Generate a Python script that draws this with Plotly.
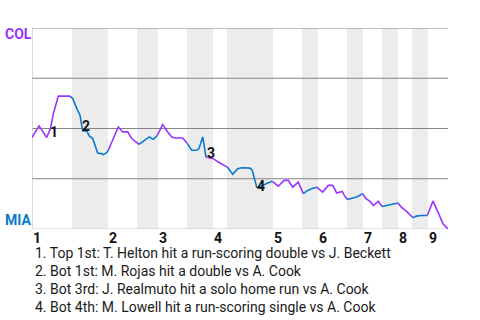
import plotly.graph_objects as go

# Game progress (event index scale) and Rockies win probability (%)
progress = [0, 1.35, 2.83, 3.56, 4.13, 5.06, 6.15, 7.31, 7.83, 8.60, 9.23, 9.56, 9.75, 10.52,
            11.02, 11.67, 12.12, 12.63, 13.27, 13.71, 14.37, 14.67, 16.60, 17.44, 18.40, 19.17,
            19.81, 20.58, 21.40, 22.56, 23.33, 24.10, 25.13, 26.10, 26.87, 27.50, 28.98, 29.87,
            30.71, 31.67, 32.12, 32.83, 33.46, 34.87, 35.83, 36.48, 37.56, 38.60, 39.56, 40.33,
            41.92, 42.37, 43.21, 43.85, 45.00, 46.21, 47.37, 48.46, 49.29, 50.13, 51.21, 52.17,
            53.02, 53.79, 54.75, 55.90, 56.98, 57.83, 58.60, 59.67, 60.06, 60.63, 61.48, 62.44,
            63.60, 64.23, 65.00, 65.63, 66.60, 67.31, 68.13, 69.10, 70.38, 71.02, 71.98, 73.27,
            73.90, 74.87, 76.02, 77.12, 78.08, 79.04, 80.0]
col_win_pct = [45.5, 51.3, 45.5, 50.1, 57.6, 66.1, 66.1, 66.1, 64.9, 60.0, 56.6, 51.6, 48.8, 48.8,
               46.3, 45.0, 41.6, 37.8, 37.5, 37.0, 38.0, 39.2, 50.8, 48.3, 48.3, 45.0,
               43.8, 42.1, 43.6, 45.8, 44.6, 46.6, 52.0, 48.3, 45.8, 45.3, 45.3, 42.5,
               39.2, 39.2, 40.0, 45.8, 35.8, 35.0, 33.3, 32.5, 30.8, 27.2, 30.0, 30.5,
               30.3, 29.2, 20.8, 20.8, 22.5, 23.7, 21.3, 24.2, 24.2, 20.8, 23.3, 17.6,
               19.2, 20.0, 20.8, 18.4, 21.7, 21.7, 17.9, 18.7, 16.7, 14.7, 15.1, 15.9,
               17.6, 15.1, 13.7, 11.7, 13.7, 11.2, 11.7, 12.2, 12.9, 10.9, 8.9, 5.6,
               6.4, 6.7, 6.7, 13.9, 8.4, 2.6, 0.0]

# Where the batting team changes (line colour switches)
color_switch = [7.31, 14.67, 20.58, 24.10, 29.87, 33.46, 37.56, 46.21, 52.17, 54.75,
                60.63, 63.60, 67.31, 70.38, 73.27, 76.02]

# Bottom-half-inning shaded bands (start, end)
bottom_bands = [(7.69, 14.62), (20.19, 24.23), (29.81, 34.81), (37.50, 46.35),
                (51.92, 55.00), (60.58, 63.65), (67.31, 70.38), (73.08, 76.15)]
innings = ["1", "2", "3", "4", "5", "6", "7", "8", "9"]

# Key events
event_ids = ["1", "2", "3", "4"]
event_x = [4.23, 10.38, 34.42, 44.04]
event_y = [48.3, 51.3, 38.0, 21.2]
event_text = [
    "1. Top 1st: T. Helton hit a run-scoring double vs J. Beckett",
    "2. Bot 1st: M. Rojas hit a double vs A. Cook",
    "3. Bot 3rd: J. Realmuto hit a solo home run vs A. Cook",
    "4. Bot 4th: M. Lowell hit a run-scoring single vs A. Cook",
]

PURPLE = "#9933ff"
BLUE = "#0a7ad0"
FONT = "Roboto"
X_MAX = 80

fig = go.Figure()

# colour runs
runs = []
cur = None
for i in range(len(progress) - 1):
    n = sum(1 for s in color_switch if s <= progress[i])
    color = BLUE if n % 2 == 1 else PURPLE
    if cur is None or cur["color"] != color:
        cur = {"color": color, "x": [progress[i]], "y": [col_win_pct[i]]}
        runs.append(cur)
    cur["x"].append(progress[i + 1])
    cur["y"].append(col_win_pct[i + 1])

for r in runs:
    fig.add_trace(go.Scatter(x=r["x"], y=r["y"], mode="lines",
                             line=dict(color=r["color"], width=1.6),
                             hoverinfo="skip", showlegend=False))

shapes = []
for a, b in bottom_bands:
    shapes.append(dict(type="rect", xref="x", yref="y", x0=a, x1=b, y0=0, y1=100,
                       fillcolor="#ececec", line=dict(width=0), layer="below"))
for g in [25, 50, 75, 100]:
    shapes.append(dict(type="line", xref="x", yref="y", x0=0, x1=X_MAX, y0=g, y1=g,
                       line=dict(color="#858585", width=1.2), layer="below"))
shapes.append(dict(type="line", xref="x", yref="y", x0=0, x1=0, y0=0, y1=100,
                   line=dict(color="#b4b4b4", width=1), layer="below"))
shapes.append(dict(type="line", xref="x", yref="y", x0=0, x1=X_MAX, y0=0, y1=0,
                   line=dict(color="#c8c8c8", width=1), layer="below"))

annotations = []
inning_starts = [0] + [b for _, b in bottom_bands]
for lab, xs in zip(innings, inning_starts):
    annotations.append(dict(x=xs, y=0, xref="x", yref="paper", text=lab, showarrow=False,
                            xanchor="left", yanchor="middle", yshift=-8.5, xshift=-1,
                            font=dict(family=FONT, size=14, color="#111111", weight="bold")))
for lab, ex, ey in zip(event_ids, event_x, event_y):
    annotations.append(dict(x=ex, y=ey, xref="x", yref="y", text=lab, showarrow=False,
                            xanchor="center", yanchor="middle",
                            font=dict(family=FONT, size=14, color="#111111", weight="bold")))
annotations.append(dict(x=0, y=100, xref="paper", yref="y", text="COL", showarrow=False,
                        xanchor="left", yanchor="middle", xshift=-29, yshift=-6,
                        font=dict(family=FONT, size=14, color=PURPLE, weight="bold")))
annotations.append(dict(x=0, y=0, xref="paper", yref="y", text="MIA", showarrow=False,
                        xanchor="left", yanchor="middle", xshift=-29, yshift=9.5,
                        font=dict(family=FONT, size=14, color=BLUE, weight="bold")))
for k, t in enumerate(event_text):
    annotations.append(dict(x=0, y=0, xref="paper", yref="paper", text=t, showarrow=False,
                            xanchor="left", yanchor="middle", xshift=1,
                            yshift=-(24 + 17.9 * k),
                            font=dict(family=FONT, size=14, color="#1a1a1a")))

fig.update_layout(
    width=480, height=320,
    margin=dict(l=32, r=32, t=28, b=91, pad=0),
    paper_bgcolor="white", plot_bgcolor="white",
    xaxis=dict(range=[0, X_MAX], visible=False, fixedrange=True),
    yaxis=dict(range=[0, 100], visible=False, fixedrange=True),
    shapes=shapes, annotations=annotations, showlegend=False,
)

fig.write_html("out.html", config={"displayModeBar": False})
